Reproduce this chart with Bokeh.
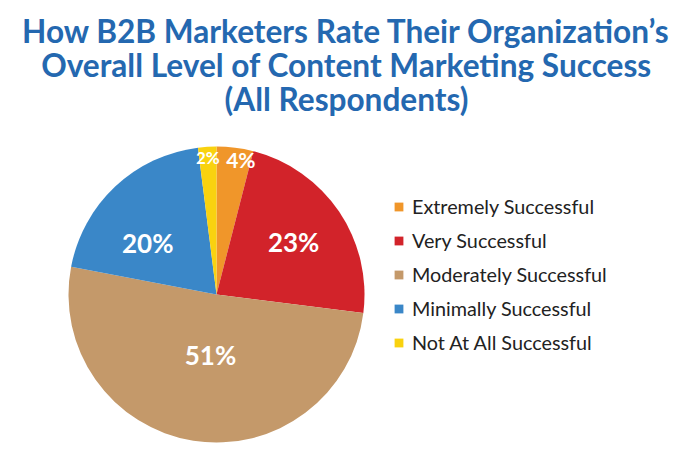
import math
from bokeh.plotting import figure
from bokeh.models import ColumnDataSource, Range1d, Legend, LegendItem
from bokeh.core.properties import value
from bokeh.embed import file_html
from bokeh.resources import INLINE

categories = ["Extremely Successful", "Very Successful", "Moderately Successful",
              "Minimally Successful", "Not At All Successful"]
percents = [4, 23, 51, 20, 2]
colors = ["#F0962A", "#D2232A", "#C4996A", "#3A87C8", "#F9D20F"]
title_lines = ["How B2B Marketers Rate Their Organization\u2019s",
               "Overall Level of Content Marketing Success",
               "(All Respondents)"]

W, H = 684, 455
p = figure(width=W, height=H, output_backend="svg", toolbar_location=None,
           x_range=Range1d(0, W), y_range=Range1d(0, H), min_border=0,
           outline_line_color=None)
p.axis.visible = False
p.grid.visible = False
p.background_fill_color = "white"

# pie geometry (screen-like units)
cx, cy, r = 216, 161, 148
total = sum(percents)
starts, ends, mids = [], [], []
cum = 0.0
for v in percents:
    a0 = math.pi / 2 - 2 * math.pi * cum / total
    cum += v
    a1 = math.pi / 2 - 2 * math.pi * cum / total
    starts.append(a0)
    ends.append(a1)
    mids.append((a0 + a1) / 2)

src = ColumnDataSource(dict(cat=categories, pct=percents, color=colors,
                            start=starts, end=ends))
wr = p.wedge(x=cx, y=cy, radius=r, start_angle="start", end_angle="end",
             direction="clock", fill_color="color", line_color=None, source=src)

# slice labels
label_r = [0.93, 0.63, 0.41, 0.58, 0.93]
label_shift = [-3.0, 0, 3.3, 10, 0]
label_size = ["21px", "26px", "26px", "26px", "17px"]
lx = [cx + f * r * math.cos(m + math.radians(d)) for f, m, d in zip(label_r, mids, label_shift)]
ly = [cy + f * r * math.sin(m + math.radians(d)) for f, m, d in zip(label_r, mids, label_shift)]
lsrc = ColumnDataSource(dict(x=lx, y=ly, t=[f"{v}%" for v in percents], s=label_size))
p.text(x="x", y="y", text="t", source=lsrc, text_color="white",
       text_font=value("Lato"), text_font_style="bold", text_font_size="s",
       text_align="center", text_baseline="middle")

# title
tsrc = ColumnDataSource(dict(x=[346] * 3, y=[H - 30 - 34 * i for i in range(3)], t=title_lines))
p.text(x="x", y="y", text="t", source=tsrc, text_color="#2468B0",
       text_font=value("Lato"), text_font_style="bold", text_font_size="31.6px",
       text_align="center", text_baseline="middle")

legend = Legend(items=[LegendItem(label=c, renderers=[wr], index=i) for i, c in enumerate(categories)],
                location=(393, 101), border_line_color=None, background_fill_alpha=0,
                label_text_font="Lato", label_text_font_size="19.8px",
                label_text_color="#222222", glyph_width=11, glyph_height=11,
                label_height=22, spacing=10, label_standoff=8, padding=0, margin=0)
p.add_layout(legend, "center")

open("out.html", "w").write(file_html(p, INLINE))
